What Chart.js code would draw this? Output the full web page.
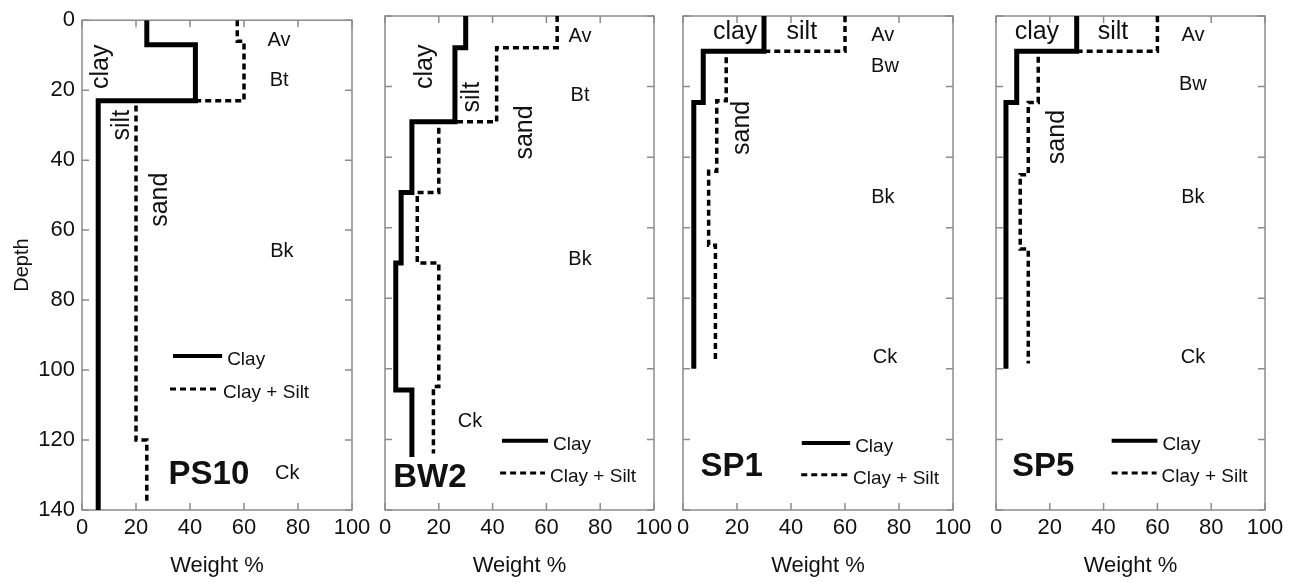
<!DOCTYPE html>
<html>
<head>
<meta charset="utf-8">
<script src="https://cdn.jsdelivr.net/npm/chart.js@4.4.1/dist/chart.umd.min.js"></script>
<style>
  html, body { margin: 0; padding: 0; background: #fff; }
  #wrap { position: relative; width: 1296px; height: 582px; overflow: hidden; }
  #wrap canvas { position: absolute; top: 0; }
</style>
</head>
<body>
<div id="wrap">
  <canvas id="ps10"></canvas>
  <canvas id="bw2"></canvas>
  <canvas id="sp1"></canvas>
  <canvas id="sp5"></canvas>
</div>
<script>
// Particle size profiles (depth vs weight %)
const weightTicks = [0, 20, 40, 60, 80, 100];
const depthTicks = [0, 20, 40, 60, 80, 100, 120, 140];
const seriesNames = ["Clay", "Clay + Silt"];

// each profile: depth of the top of every horizon (+ bottom), value in that horizon
const ps10ClayDepth = [0, 7, 23, 140];
const ps10Clay = [24, 42, 6, 6];
const ps10SiltDepth = [0, 6, 23, 120, 138];
const ps10ClaySilt = [57.5, 60, 20, 24, 24];

const bw2ClayDepth = [0, 9, 30, 50, 70, 106, 125];
const bw2Clay = [30, 26, 10, 6, 4, 10, 10];
const bw2SiltDepth = [0, 9, 30, 50, 70, 105, 124];
const bw2ClaySilt = [64, 41.5, 20, 12, 20, 18, 18];

const sp1ClayDepth = [0, 10, 24.5, 100];
const sp1Clay = [30, 7.5, 4, 4];
const sp1SiltDepth = [0, 10, 24, 44, 65, 98];
const sp1ClaySilt = [60, 16, 12.5, 9.5, 12, 12];

const sp5ClayDepth = [0, 10, 24.5, 100];
const sp5Clay = [30, 7.7, 3.7, 3.7];
const sp5SiltDepth = [0, 10, 24.5, 45, 66, 98.5];
const sp5ClaySilt = [60, 15.7, 12, 9, 12, 12];

const FONT = "'Liberation Sans', Arial, Helvetica, sans-serif";
const INK = '#111';
Chart.defaults.font.family = FONT;
Chart.defaults.color = INK;

const toPoints = (depths, vals) => depths.map((d, i) => ({ x: vals[i], y: d }));

// panel layout and text notes (note positions in data units: weight %, depth)
const panels = [
  {
    id: 'ps10', name: 'PS10', left: 82, right: 352, yAxis: true,
    clay: toPoints(ps10ClayDepth, ps10Clay), silt: toPoints(ps10SiltDepth, ps10ClaySilt),
    notes: [
      ['clay', 7, 13.3, 'frac', true], ['silt', 14.8, 30, 'frac', true], ['sand', 28.9, 51.3, 'frac', true],
      ['Av', 73, 5.9, 'hz'], ['Bt', 73, 17.3, 'hz'], ['Bk', 74, 66, 'hz'], ['Ck', 76, 129.5, 'hz'],
      ['PS10', 47, 130, 'name']
    ],
    legend: [[33.7, 51.9, 96], [32.6, 50.4, 105.4]]
  },
  {
    id: 'bw2', name: 'BW2', left: 385, right: 654,
    clay: toPoints(bw2ClayDepth, bw2Clay), silt: toPoints(bw2SiltDepth, bw2ClaySilt),
    notes: [
      ['clay', 14.9, 14.4, 'frac', true], ['silt', 32.3, 23, 'frac', true], ['sand', 52, 33, 'frac', true],
      ['Av', 72.5, 5.7, 'hz'], ['Bt', 72.5, 22.4, 'hz'], ['Bk', 72.5, 69, 'hz'], ['Ck', 31.6, 115, 'hz'],
      ['BW2', 16.7, 131, 'name']
    ],
    legend: [[43.5, 60.6, 120.4], [42.8, 59.5, 129.5]]
  },
  {
    id: 'sp1', name: 'SP1', left: 683, right: 953,
    clay: toPoints(sp1ClayDepth, sp1Clay), silt: toPoints(sp1SiltDepth, sp1ClaySilt),
    notes: [
      ['clay', 19.3, 4.5, 'frac'], ['silt', 44, 4.5, 'frac'], ['sand', 21.9, 31.7, 'frac', true],
      ['Av', 74, 5.4, 'hz'], ['Bw', 74.8, 14.4, 'hz'], ['Bk', 74, 51.3, 'hz'], ['Ck', 74.8, 96.9, 'hz'],
      ['SP1', 18, 127.8, 'name']
    ],
    legend: [[44, 61.9, 121], [43.8, 61.1, 130]]
  },
  {
    id: 'sp5', name: 'SP5', left: 996, right: 1265,
    clay: toPoints(sp5ClayDepth, sp5Clay), silt: toPoints(sp5SiltDepth, sp5ClaySilt),
    notes: [
      ['clay', 15.2, 4.5, 'frac'], ['silt', 43.5, 4.5, 'frac'], ['sand', 22.7, 34.3, 'frac', true],
      ['Av', 73.2, 5.4, 'hz'], ['Bw', 73.2, 19.5, 'hz'], ['Bk', 73.2, 51.3, 'hz'], ['Ck', 73.2, 96.9, 'hz'],
      ['SP5', 17.5, 127.8, 'name']
    ],
    legend: [[43, 60, 120.4], [43, 59.7, 129.5]]
  }
];

const noteFonts = { frac: '25px ' + FONT, hz: '20px ' + FONT, name: 'bold 33px ' + FONT };

// plot box with small inward ticks on all four sides
const framePlugin = {
  id: 'frame',
  beforeDatasetsDraw(chart) {
    const { ctx, chartArea: a, scales: { x, y } } = chart;
    ctx.save();
    ctx.strokeStyle = '#8c8c8c';
    ctx.lineWidth = 1.5;
    ctx.strokeRect(a.left, a.top, a.right - a.left, a.bottom - a.top);
    ctx.beginPath();
    weightTicks.forEach(v => {
      const px = x.getPixelForValue(v);
      ctx.moveTo(px, a.top); ctx.lineTo(px, a.top + 7);
      ctx.moveTo(px, a.bottom); ctx.lineTo(px, a.bottom - 7);
    });
    depthTicks.forEach(v => {
      const py = y.getPixelForValue(v);
      ctx.moveTo(a.left, py); ctx.lineTo(a.left + 7, py);
      ctx.moveTo(a.right, py); ctx.lineTo(a.right - 7, py);
    });
    ctx.stroke();
    ctx.restore();
  }
};

// horizon names, fraction labels, profile name and the little legend
const notesPlugin = {
  id: 'notes',
  afterDatasetsDraw(chart, args, opts) {
    const { ctx, scales: { x, y } } = chart;
    const p = opts.panel;
    ctx.save();
    ctx.fillStyle = INK;
    ctx.textAlign = 'center';
    ctx.textBaseline = 'middle';
    p.notes.forEach(([text, vx, vy, kind, rot]) => {
      ctx.save();
      ctx.font = noteFonts[kind];
      ctx.translate(x.getPixelForValue(vx), y.getPixelForValue(vy));
      if (rot) ctx.rotate(-Math.PI / 2);
      ctx.fillText(text, 0, 0);
      ctx.restore();
    });
    chart.data.datasets.forEach((ds, i) => {
      const [x0, x1, d] = p.legend[i];
      const py = y.getPixelForValue(d);
      const px1 = x.getPixelForValue(x1);
      ctx.save();
      ctx.strokeStyle = ds.borderColor;
      ctx.lineWidth = i === 0 ? 4 : 3;
      ctx.setLineDash(ds.borderDash || []);
      ctx.beginPath();
      ctx.moveTo(x.getPixelForValue(x0), py);
      ctx.lineTo(px1, py);
      ctx.stroke();
      ctx.restore();
      ctx.font = '19px ' + FONT;
      ctx.textAlign = 'left';
      ctx.fillText(ds.label, px1 + 5, py + 4);
    });
    ctx.restore();
  }
};

panels.forEach(p => {
  const yw = p.yAxis ? 82 : 20;
  const canvas = document.getElementById(p.id);
  canvas.width = yw + (p.right - p.left) + 25;
  canvas.height = 582;
  canvas.style.left = (p.left - yw) + 'px';

  new Chart(canvas, {
    type: 'line',
    data: {
      datasets: [
        {
          label: seriesNames[0], data: p.clay,
          borderColor: '#000', borderWidth: 5, stepped: 'after',
          pointRadius: 0, fill: false, borderJoinStyle: 'miter'
        },
        {
          label: seriesNames[1], data: p.silt,
          borderColor: '#000', borderWidth: 3.5, borderDash: [6, 4], stepped: 'after',
          pointRadius: 0, fill: false, borderJoinStyle: 'miter'
        }
      ]
    },
    options: {
      responsive: false,
      animation: false,
      layout: { padding: { top: 16, right: 25, bottom: 0, left: p.yAxis ? 0 : 20 } },
      plugins: {
        legend: { display: false },
        tooltip: { enabled: false },
        notes: { panel: p }
      },
      scales: {
        x: {
          type: 'linear', min: 0, max: 100,
          afterBuildTicks: s => { s.ticks = weightTicks.map(v => ({ value: v })); },
          afterFit: s => { s.height = 72; },
          grid: { display: false, drawTicks: false },
          border: { display: false },
          ticks: { font: { size: 22 }, color: INK, padding: 5, maxRotation: 0, autoSkip: false },
          title: { display: true, text: 'Weight %', font: { size: 22 }, color: INK, padding: { top: 0, bottom: 3 } }
        },
        y: {
          type: 'linear', reverse: true, min: 0, max: 140,
          display: !!p.yAxis,
          afterBuildTicks: s => { s.ticks = depthTicks.map(v => ({ value: v })); },
          afterFit: s => { s.width = p.yAxis ? 82 : 0; },
          grid: { display: false, drawTicks: false },
          border: { display: false },
          ticks: { font: { size: 22 }, color: INK, padding: 7, autoSkip: false },
          title: { display: true, text: 'Depth', font: { size: 20 }, color: INK, padding: { top: 10, bottom: 0 } }
        }
      }
    },
    plugins: [framePlugin, notesPlugin]
  });
});
</script>
</body>
</html>
